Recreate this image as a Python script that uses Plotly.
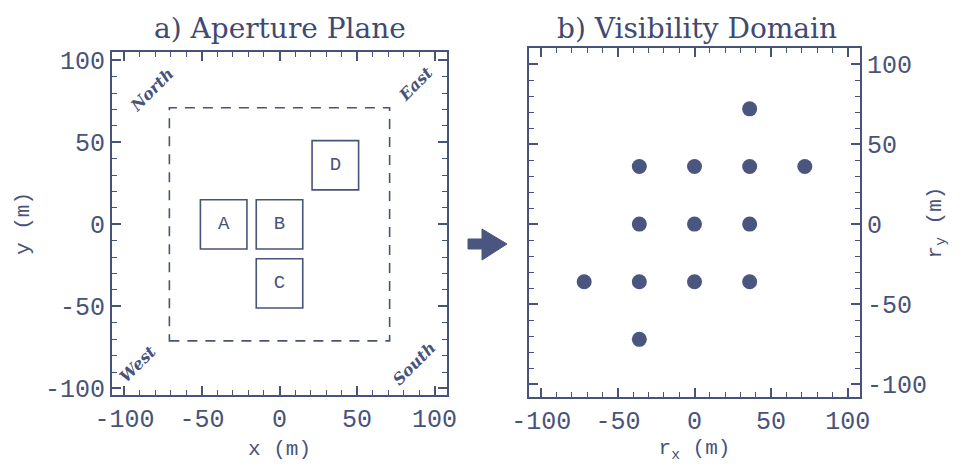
import plotly.graph_objects as go

# ---- data ----
box_names = ["A", "B", "C", "D"]
box_x = [-36, 0, 0, 36]
box_y = [0, 0, -36, 36]
box_size = 30
field_half = 71  # dashed field-of-view half width

corner_labels = ["North", "East", "West", "South"]
corner_x = [-82, 88, -91, 87]
corner_y = [82, 86, -85, -85]

vis_x = [36, -36, 0, 36, 72, -36, 0, 36, -72, -36, 0, 36, -36]
vis_y = [72, 36, 36, 36, 36, 0, 0, 0, -36, -36, -36, -36, -72]

tick_vals = [-100, -50, 0, 50, 100]
tick_text = ["-100", "-50", "0", "50", "100"]

INK = "#48537a"
W, H = 964, 468

fig = go.Figure()

# boxes in aperture plane
for n, cx, cy in zip(box_names, box_x, box_y):
    h = box_size / 2
    fig.add_shape(type="rect", xref="x", yref="y", x0=cx - h, x1=cx + h, y0=cy - h, y1=cy + h,
                  line=dict(color=INK, width=1.6))
fig.add_trace(go.Scatter(x=box_x, y=box_y, mode="text", text=box_names,
                         textfont=dict(family="Liberation Mono", size=19, color=INK),
                         xaxis="x", yaxis="y", showlegend=False, hoverinfo="skip"))
fig.add_shape(type="rect", xref="x", yref="y", x0=-field_half, x1=field_half,
              y0=-field_half, y1=field_half, line=dict(color=INK, width=1.6, dash="10px,8px"))

for t, cx, cy in zip(corner_labels, corner_x, corner_y):
    fig.add_annotation(x=cx, y=cy, xref="x", yref="y", text=t, showarrow=False, textangle=-45,
                       xanchor="center", yanchor="middle",
                       font=dict(family="DejaVu Serif", size=16, color=INK, weight="bold", style="italic"))

# visibility points
fig.add_trace(go.Scatter(x=vis_x, y=vis_y, mode="markers", xaxis="x2", yaxis="y2",
                         marker=dict(size=15, color="#4a5680"), showlegend=False))

axis_common = dict(
    tickmode="array", tickvals=tick_vals, ticktext=tick_text,
    ticks="inside", ticklen=9, tickwidth=1.6, tickcolor=INK,
    minor=dict(dtick=10, tick0=0, ticks="inside", ticklen=5, tickwidth=1.4, tickcolor=INK),
    showline=True, linecolor=INK, linewidth=2.2, mirror="allticks",
    showgrid=False, zeroline=False, automargin=False,
    tickfont=dict(family="Liberation Mono", size=25, color=INK),
    title_font=dict(family="Liberation Mono", size=21, color=INK),
)

def px(x):
    return x / W

def py(y):
    return 1 - y / H

fig.update_layout(
    width=W, height=H, margin=dict(l=0, r=0, t=0, b=0),
    paper_bgcolor="white", plot_bgcolor="white",
    xaxis=dict(domain=[px(112), px(447)], range=[-108, 108], anchor="y",
               title=dict(text="x (m)", standoff=6), **axis_common),
    yaxis=dict(domain=[py(395), py(52)], range=[-104, 105], anchor="x",
               title=dict(text="y (m)", standoff=10), **axis_common),
    xaxis2=dict(domain=[px(529), px(860)], range=[-108, 108], anchor="y2",
                title=dict(text="r<sub>x</sub> (m)", standoff=2), **axis_common),
    yaxis2=dict(domain=[py(397), py(48)], range=[-108, 110], anchor="x2", side="right",
                title=dict(text="r<sub>y</sub> (m)", standoff=0), **axis_common),
)

fig.add_annotation(x=px(280), y=py(28), xref="paper", yref="paper", text="a) Aperture Plane",
                   xanchor="center", yanchor="middle", showarrow=False,
                   font=dict(family="DejaVu Serif", size=28, color="#3f4a70"))
fig.add_annotation(x=px(697), y=py(28), xref="paper", yref="paper", text="b) Visibility Domain",
                   xanchor="center", yanchor="middle", showarrow=False,
                   font=dict(family="DejaVu Serif", size=28, color="#3f4a70"))

# arrow between panels
pts = [(468, 239), (482, 239), (482, 229), (507, 244), (482, 260), (482, 249), (468, 249)]
path = "M " + " L ".join(f"{px(a):.5f},{py(b):.5f}" for a, b in pts) + " Z"
fig.add_shape(type="path", xref="paper", yref="paper", path=path,
              fillcolor="#4a5680", line=dict(color="#4a5680", width=1))

fig.write_html("out.html")
